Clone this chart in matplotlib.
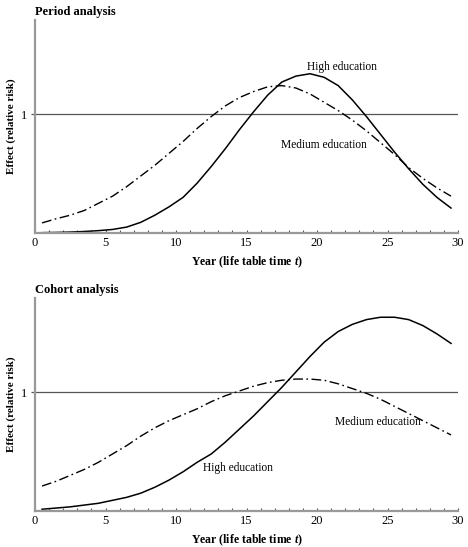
import numpy as np
import matplotlib
matplotlib.use("Agg")
import matplotlib.pyplot as plt
from matplotlib.ticker import MultipleLocator

# ==== DATA ====
years = [0.5, 1.5, 2.5, 3.5, 4.5, 5.5, 6.5, 7.5, 8.5, 9.5,
         10.5, 11.5, 12.5, 13.5, 14.5, 15.5, 16.5, 17.5, 18.5, 19.5,
         20.5, 21.5, 22.5, 23.5, 24.5, 25.5, 26.5, 27.5, 28.5, 29.5]

period_high = [0.003, 0.005, 0.008, 0.013, 0.02, 0.03, 0.05, 0.09, 0.15, 0.22,
               0.30, 0.42, 0.56, 0.71, 0.87, 1.02, 1.16, 1.27, 1.32, 1.34,
               1.31, 1.24, 1.12, 0.98, 0.83, 0.68, 0.54, 0.41, 0.30, 0.21]
period_medium = [0.085, 0.12, 0.15, 0.19, 0.25, 0.31, 0.39, 0.48, 0.57, 0.67,
                 0.77, 0.88, 0.98, 1.07, 1.14, 1.19, 1.23, 1.24, 1.22, 1.17,
                 1.10, 1.03, 0.95, 0.86, 0.76, 0.66, 0.55, 0.46, 0.38, 0.31]

cohort_high = [0.015, 0.025, 0.035, 0.05, 0.065, 0.09, 0.115, 0.15, 0.20, 0.26,
               0.33, 0.41, 0.48, 0.58, 0.69, 0.80, 0.92, 1.04, 1.17, 1.30,
               1.42, 1.51, 1.57, 1.61, 1.63, 1.63, 1.61, 1.56, 1.49, 1.41]
cohort_medium = [0.21, 0.25, 0.30, 0.35, 0.41, 0.48, 0.55, 0.63, 0.70, 0.76,
                 0.81, 0.86, 0.92, 0.97, 1.01, 1.05, 1.08, 1.10, 1.11, 1.11,
                 1.10, 1.07, 1.03, 0.99, 0.94, 0.88, 0.82, 0.76, 0.70, 0.64]

titles = ["Period analysis", "Cohort analysis"]
# label positions (t, value) for the curve annotations
period_labels = [("High education", 21.8, 1.40), ("Medium education", 20.5, 0.74)]
cohort_labels = [("High education", 14.4, 0.36), ("Medium education", 24.3, 0.75)]
# ==============

plt.rcParams["font.family"] = ["Liberation Serif", "DejaVu Serif"]
plt.rcParams["mathtext.fontset"] = "custom"
plt.rcParams["mathtext.it"] = "Liberation Serif:italic:bold"
plt.rcParams["mathtext.rm"] = "Liberation Serif:bold"

fig = plt.figure(figsize=(4.68, 5.47), dpi=100)
ax_top = fig.add_axes([0.0748, 0.574, 0.904, 0.389])
ax_bot = fig.add_axes([0.0748, 0.0658, 0.904, 0.389])

grey = "#999999"

panels = [
    (ax_top, period_high, period_medium, period_labels, titles[0]),
    (ax_bot, cohort_high, cohort_medium, cohort_labels, titles[1]),
]

for ax, high, medium, labels, title in panels:
    ax.axhline(1, color="#555555", lw=0.9, zorder=1)
    ax.plot(years, high, color="black", lw=1.1)
    ax.plot(years, medium, color="black", lw=1.0, dashes=(7, 2.5, 1.2, 2.5))

    for text, tx, ty in labels:
        ax.text(tx, ty, text, ha="center", va="center", fontsize=8.3)

    ax.set_xlim(0, 30)
    ax.set_ylim(0, 1.79)

    ax.spines["top"].set_visible(False)
    ax.spines["right"].set_visible(False)
    ax.spines["left"].set_color(grey)
    ax.spines["bottom"].set_color(grey)
    ax.spines["left"].set_linewidth(1.6)
    ax.spines["bottom"].set_linewidth(1.6)

    ax.xaxis.set_major_locator(MultipleLocator(5))
    ax.xaxis.set_minor_locator(MultipleLocator(1))
    ax.tick_params(axis="x", which="both", direction="in", length=2.5,
                   color="#555555", width=0.8, labelsize=9, pad=3)
    ax.set_yticks([1])
    ax.set_yticklabels(["1"])
    ax.tick_params(axis="y", direction="out", length=3, color="#555555",
                   width=0.9, labelsize=9, pad=3)

    ax.set_xlabel(r"Year (life table time $t$)", fontsize=8.5,
                  fontweight="bold")
    ax.xaxis.set_label_coords(0.5, -0.10)
    ax.set_ylabel("Effect (relative risk)", fontsize=8, fontweight="bold")
    ax.yaxis.set_label_coords(-0.046, 0.5)
    ax.set_title(title, loc="left", fontsize=9, fontweight="bold",
                 x=0.0, pad=4)

fig.savefig("out.png", dpi=100)
